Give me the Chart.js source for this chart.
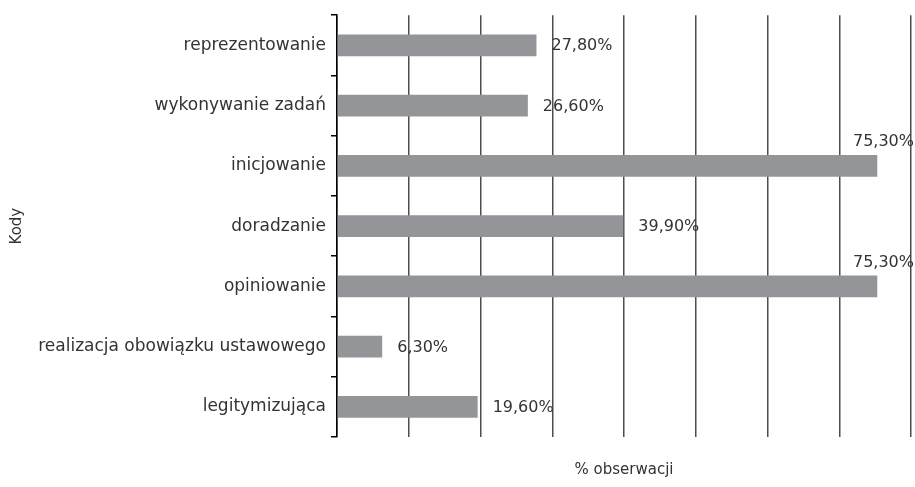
<!DOCTYPE html>
<html lang="pl">
<head>
<meta charset="utf-8">
<title>Kody – % obserwacji</title>
<script src="https://cdn.jsdelivr.net/npm/chart.js@4.4.1/dist/chart.umd.min.js"></script>
<style>
  html, body { margin: 0; padding: 0; background: #fff; }
  #wrap { width: 915px; height: 487px; position: relative; }
</style>
</head>
<body>
<div id="wrap"><canvas id="kodyChart"></canvas></div>
<script>
// categories and shares (%) of observations
const categories = [
  'reprezentowanie',
  'wykonywanie zadań',
  'inicjowanie',
  'doradzanie',
  'opiniowanie',
  'realizacja obowiązku ustawowego',
  'legitymizująca'
];
const shares = [27.8, 26.6, 75.3, 39.9, 75.3, 6.3, 19.6];

const FONT = '"DejaVu Sans", "Open Sans", sans-serif';
const TEXT = '#333333';

// value labels: right of the bar end, or above the bar when there is no room
const valueLabels = {
  id: 'valueLabels',
  afterDatasetsDraw(chart) {
    const { ctx, chartArea } = chart;
    const meta = chart.getDatasetMeta(0);
    ctx.save();
    ctx.font = '16px ' + FONT;
    ctx.fillStyle = TEXT;
    meta.data.forEach((bar, i) => {
      const txt = shares[i].toFixed(2).replace('.', ',') + '%';
      const w = ctx.measureText(txt).width;
      const x = bar.x + 15;
      if (x + w <= chartArea.right - 10) {
        ctx.textAlign = 'left';
        ctx.textBaseline = 'middle';
        ctx.fillText(txt, x, bar.y + 1);
      } else {
        ctx.textAlign = 'right';
        ctx.textBaseline = 'bottom';
        ctx.fillText(txt, chart.width - 1, bar.y - bar.height / 2 - 5);
      }
    });
    ctx.restore();
  }
};

new Chart(document.getElementById('kodyChart'), {
  type: 'bar',
  data: {
    labels: categories,
    datasets: [{
      data: shares,
      backgroundColor: '#939598',
      borderWidth: 0,
      barPercentage: 0.36,
      categoryPercentage: 1
    }]
  },
  options: {
    indexAxis: 'y',
    responsive: true,
    maintainAspectRatio: false,
    animation: false,
    layout: { padding: { top: 9, right: 4, bottom: 0, left: 0 } },
    plugins: { legend: { display: false }, tooltip: { enabled: false } },
    scales: {
      x: {
        min: 0,
        max: 80,
        ticks: { display: false, stepSize: 10 },
        grid: { color: '#4d4d4d', lineWidth: 1.5, drawTicks: false },
        border: { display: false },
        title: {
          display: true,
          text: '% obserwacji',
          color: TEXT,
          font: { family: FONT, size: 15 },
          padding: { top: 0, bottom: 8 }
        },
        afterFit(scale) { scale.height = 50; }
      },
      y: {
        ticks: {
          color: TEXT,
          font: { family: FONT, size: 17 },
          padding: 5
        },
        grid: {
          offset: true,
          drawOnChartArea: false,
          color: '#000',
          lineWidth: 1.5,
          tickLength: 6
        },
        border: { display: true, color: '#000', width: 1.5 },
        title: {
          display: true,
          text: 'Kody',
          color: TEXT,
          font: { family: FONT, size: 15 },
          padding: { top: 8, bottom: 0 }
        },
        afterFit(scale) { scale.width = 337; }
      }
    }
  },
  plugins: [valueLabels]
});
</script>
</body>
</html>
